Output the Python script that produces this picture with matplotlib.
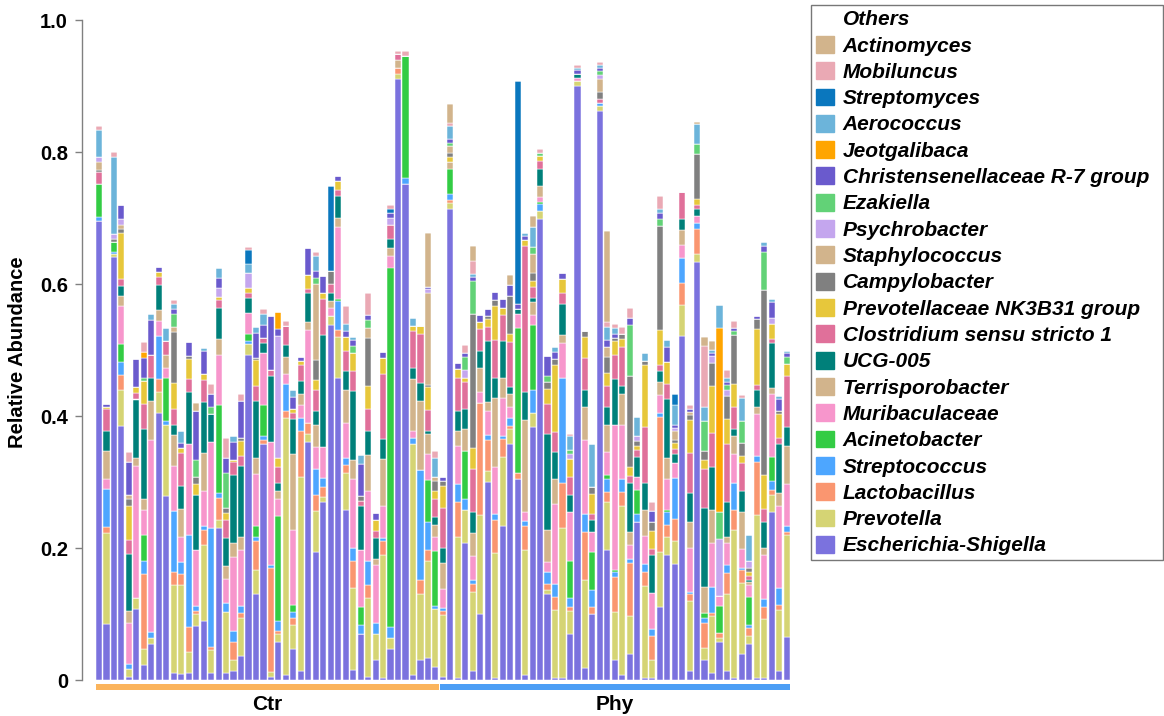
import matplotlib
matplotlib.use("Agg")
import matplotlib.pyplot as plt
from matplotlib.patches import Patch, Rectangle
import matplotlib.transforms as mtransforms
import numpy as np

plt.rcParams['font.family'] = ['Liberation Sans', 'DejaVu Sans']

# ---------------- data ----------------
groups = ["Ctr", "Phy"]
group_sizes = [46, 47]
N = sum(group_sizes)

def dense(d):
    return [d.get(i, 0.0) for i in range(N)]

escherichia = [0.695, 0.085, 0.641, 0.385, 0.004, 0.107, 0.022, 0.055, 0.404, 0.279,
               0.010, 0.009, 0.010, 0.082, 0.089, 0.010, 0.230, 0.010, 0.013, 0.037,
               0.492, 0.130, 0.357, 0.004, 0.058, 0.007, 0.047, 0.013, 0.361, 0.194,
               0.270, 0.538, 0.458, 0.258, 0.015, 0.070, 0.005, 0.030, 0.003, 0.047,
               0.910, 0.751, 0.007, 0.030, 0.033, 0.020, 0.005, 0.713, 0.003, 0.207,
               0.013, 0.100, 0.300, 0.003, 0.234, 0.357, 0.305, 0.007, 0.384, 0.698,
               0.130, 0.003, 0.003, 0.069, 0.900, 0.018, 0.100, 0.862, 0.197, 0.030,
               0.007, 0.040, 0.240, 0.003, 0.003, 0.110, 0.190, 0.176, 0.521, 0.013,
               0.633, 0.030, 0.010, 0.057, 0.013, 0.003, 0.040, 0.055, 0.003, 0.003,
               0.254, 0.013, 0.065]
prevotella = [0.000, 0.138, 0.004, 0.055, 0.013, 0.017, 0.025, 0.009, 0.033, 0.107,
              0.134, 0.135, 0.032, 0.018, 0.115, 0.035, 0.013, 0.093, 0.017, 0.057,
              0.017, 0.037, 0.000, 0.008, 0.012, 0.390, 0.037, 0.294, 0.011, 0.062,
              0.008, 0.013, 0.061, 0.055, 0.125, 0.000, 0.119, 0.040, 0.187, 0.017,
              0.008, 0.000, 0.350, 0.100, 0.147, 0.087, 0.093, 0.009, 0.214, 0.050,
              0.120, 0.150, 0.017, 0.190, 0.104, 0.023, 0.000, 0.190, 0.020, 0.013,
              0.007, 0.103, 0.228, 0.035, 0.007, 0.134, 0.000, 0.008, 0.073, 0.073,
              0.257, 0.057, 0.000, 0.140, 0.027, 0.084, 0.027, 0.035, 0.047, 0.107,
              0.013, 0.019, 0.087, 0.007, 0.117, 0.224, 0.107, 0.011, 0.247, 0.090,
              0.027, 0.093, 0.154]
lactobacillus = [0.000, 0.009, 0.000, 0.022, 0.000, 0.000, 0.113, 0.000, 0.019, 0.000,
                 0.020, 0.017, 0.038, 0.005, 0.023, 0.005, 0.033, 0.000, 0.027, 0.007,
                 0.000, 0.043, 0.007, 0.157, 0.005, 0.010, 0.010, 0.071, 0.017, 0.025,
                 0.015, 0.000, 0.012, 0.013, 0.040, 0.000, 0.020, 0.000, 0.020, 0.000,
                 0.010, 0.000, 0.000, 0.021, 0.017, 0.000, 0.006, 0.006, 0.053, 0.000,
                 0.013, 0.170, 0.047, 0.050, 0.027, 0.005, 0.009, 0.037, 0.000, 0.000,
                 0.008, 0.020, 0.067, 0.007, 0.000, 0.072, 0.010, 0.000, 0.015, 0.053,
                 0.021, 0.080, 0.000, 0.020, 0.037, 0.204, 0.018, 0.033, 0.033, 0.010,
                 0.037, 0.037, 0.004, 0.007, 0.032, 0.030, 0.020, 0.013, 0.080, 0.017,
                 0.007, 0.007, 0.005]
streptococcus = [0.007, 0.057, 0.003, 0.020, 0.007, 0.000, 0.020, 0.009, 0.065, 0.007,
                 0.092, 0.018, 0.140, 0.007, 0.007, 0.180, 0.007, 0.013, 0.017, 0.011,
                 0.005, 0.007, 0.005, 0.005, 0.015, 0.041, 0.009, 0.019, 0.000, 0.038,
                 0.013, 0.000, 0.043, 0.010, 0.020, 0.013, 0.037, 0.017, 0.005, 0.017,
                 0.000, 0.010, 0.010, 0.167, 0.043, 0.005, 0.005, 0.009, 0.027, 0.017,
                 0.005, 0.000, 0.007, 0.008, 0.005, 0.012, 0.000, 0.007, 0.035, 0.010,
                 0.019, 0.020, 0.159, 0.013, 0.000, 0.028, 0.027, 0.005, 0.020, 0.007,
                 0.019, 0.007, 0.011, 0.013, 0.010, 0.007, 0.020, 0.062, 0.038, 0.003,
                 0.010, 0.008, 0.040, 0.000, 0.013, 0.042, 0.003, 0.005, 0.010, 0.013,
                 0.013, 0.027, 0.010]
acinetobacter = dense({0: 0.05, 2: 0.015, 3: 0.027, 6: 0.04, 9: 0.064, 16: 0.134,
                       20: 0.01, 21: 0.017, 22: 0.048, 24: 0.159, 26: 0.011, 32: 0.003,
                       35: 0.027, 39: 0.544, 41: 0.184, 44: 0.063, 45: 0.083, 47: 0.038,
                       49: 0.073, 56: 0.22, 58: 0.099, 59: 0.004, 63: 0.057, 66: 0.057,
                       68: 0.005, 69: 0.003, 72: 0.037, 76: 0.003, 81: 0.007, 83: 0.041,
                       87: 0.042, 90: 0.037})
muribaculaceae = [0.000, 0.015, 0.000, 0.058, 0.063, 0.200, 0.037, 0.290, 0.023, 0.015,
                  0.068, 0.037, 0.137, 0.085, 0.053, 0.130, 0.075, 0.037, 0.113, 0.085,
                  0.032, 0.078, 0.079, 0.186, 0.025, 0.015, 0.114, 0.020, 0.142, 0.034,
                  0.047, 0.013, 0.110, 0.053, 0.104, 0.087, 0.105, 0.087, 0.048, 0.017,
                  0.000, 0.000, 0.010, 0.000, 0.040, 0.021, 0.029, 0.000, 0.057, 0.000,
                  0.037, 0.017, 0.037, 0.072, 0.058, 0.017, 0.020, 0.013, 0.015, 0.007,
                  0.015, 0.120, 0.053, 0.073, 0.005, 0.112, 0.030, 0.000, 0.035, 0.220,
                  0.083, 0.020, 0.020, 0.042, 0.055, 0.027, 0.047, 0.023, 0.020, 0.067,
                  0.010, 0.000, 0.067, 0.015, 0.032, 0.043, 0.028, 0.018, 0.063, 0.067,
                  0.095, 0.124, 0.063]
terrisporobacter = [0.000, 0.043, 0.000, 0.015, 0.017, 0.013, 0.017, 0.059, 0.017, 0.020,
                    0.047, 0.043, 0.000, 0.000, 0.057, 0.000, 0.025, 0.020, 0.020, 0.020,
                    0.000, 0.024, 0.000, 0.000, 0.013, 0.027, 0.115, 0.017, 0.012, 0.033,
                    0.000, 0.010, 0.013, 0.050, 0.030, 0.000, 0.055, 0.010, 0.072, 0.013,
                    0.011, 0.000, 0.079, 0.105, 0.030, 0.019, 0.040, 0.010, 0.023, 0.033,
                    0.035, 0.035, 0.013, 0.104, 0.030, 0.020, 0.000, 0.140, 0.019, 0.017,
                    0.049, 0.038, 0.013, 0.000, 0.000, 0.049, 0.000, 0.000, 0.042, 0.000,
                    0.047, 0.020, 0.000, 0.040, 0.000, 0.019, 0.032, 0.000, 0.023, 0.040,
                    0.000, 0.040, 0.050, 0.000, 0.010, 0.027, 0.057, 0.005, 0.010, 0.010,
                    0.010, 0.020, 0.057]
ucg005 = [0.000, 0.030, 0.000, 0.015, 0.087, 0.088, 0.107, 0.035, 0.038, 0.000,
          0.015, 0.035, 0.080, 0.083, 0.077, 0.043, 0.047, 0.042, 0.103, 0.108,
          0.023, 0.087, 0.015, 0.100, 0.011, 0.017, 0.052, 0.019, 0.043, 0.021,
          0.169, 0.013, 0.033, 0.029, 0.104, 0.067, 0.037, 0.031, 0.030, 0.013,
          0.000, 0.000, 0.016, 0.027, 0.005, 0.012, 0.022, 0.000, 0.030, 0.030,
          0.032, 0.027, 0.092, 0.031, 0.055, 0.010, 0.008, 0.043, 0.007, 0.025,
          0.145, 0.042, 0.047, 0.027, 0.006, 0.027, 0.018, 0.000, 0.027, 0.070,
          0.011, 0.075, 0.030, 0.040, 0.057, 0.017, 0.089, 0.013, 0.017, 0.043,
          0.010, 0.119, 0.064, 0.000, 0.053, 0.012, 0.032, 0.003, 0.027, 0.039,
          0.067, 0.073, 0.029]
clostridium = [0.017, 0.033, 0.000, 0.010, 0.021, 0.010, 0.037, 0.035, 0.011, 0.021,
               0.024, 0.050, 0.019, 0.000, 0.033, 0.000, 0.012, 0.028, 0.020, 0.015,
               0.007, 0.023, 0.007, 0.010, 0.024, 0.030, 0.009, 0.024, 0.007, 0.033,
               0.055, 0.013, 0.010, 0.031, 0.030, 0.007, 0.033, 0.011, 0.098, 0.022,
               0.009, 0.000, 0.057, 0.075, 0.031, 0.027, 0.061, 0.000, 0.051, 0.041,
               0.065, 0.033, 0.022, 0.057, 0.040, 0.068, 0.000, 0.220, 0.017, 0.013,
               0.045, 0.030, 0.017, 0.027, 0.000, 0.048, 0.010, 0.005, 0.031, 0.037,
               0.059, 0.010, 0.010, 0.085, 0.010, 0.010, 0.023, 0.008, 0.041, 0.061,
               0.007, 0.059, 0.053, 0.000, 0.088, 0.032, 0.042, 0.005, 0.007, 0.020,
               0.007, 0.009, 0.078]
nk3b31 = [0.000, 0.004, 0.000, 0.071, 0.052, 0.009, 0.035, 0.000, 0.008, 0.000,
          0.040, 0.008, 0.030, 0.017, 0.009, 0.000, 0.005, 0.010, 0.004, 0.022,
          0.008, 0.039, 0.000, 0.000, 0.015, 0.000, 0.007, 0.007, 0.020, 0.015,
          0.010, 0.000, 0.013, 0.020, 0.027, 0.000, 0.035, 0.016, 0.025, 0.000,
          0.000, 0.000, 0.008, 0.011, 0.035, 0.012, 0.033, 0.007, 0.013, 0.007,
          0.032, 0.011, 0.012, 0.051, 0.010, 0.013, 0.000, 0.009, 0.009, 0.007,
          0.023, 0.101, 0.020, 0.027, 0.000, 0.032, 0.030, 0.000, 0.020, 0.020,
          0.013, 0.013, 0.007, 0.094, 0.027, 0.052, 0.033, 0.009, 0.000, 0.050,
          0.009, 0.015, 0.071, 0.000, 0.037, 0.035, 0.010, 0.006, 0.085, 0.052,
          0.023, 0.037, 0.018]
campylobacter = dense({0: 0.004, 2: 0.005, 3: 0.005, 4: 0.01, 10: 0.078, 12: 0.005,
                       13: 0.01, 17: 0.007, 19: 0.005, 21: 0.003, 29: 0.03, 31: 0.02,
                       35: 0.008, 36: 0.072, 44: 0.003, 45: 0.016, 46: 0.007, 47: 0.007,
                       50: 0.202, 52: 0.005, 53: 0.009, 55: 0.057, 58: 0.011, 60: 0.011,
                       61: 0.009, 65: 0.009, 66: 0.011, 67: 0.011, 68: 0.025, 69: 0.005,
                       70: 0.007, 71: 0.139, 72: 0.007, 73: 0.007, 74: 0.013, 75: 0.158,
                       77: 0.005, 79: 0.007, 80: 0.068, 81: 0.013, 82: 0.035, 84: 0.035,
                       85: 0.074, 86: 0.02, 87: 0.006, 88: 0.015, 89: 0.28, 91: 0.005})
staphylococcus = dense({0: 0.012, 3: 0.007, 4: 0.007, 10: 0.007, 29: 0.115, 36: 0.015,
                        44: 0.14, 45: 0.005, 47: 0.01, 58: 0.03, 67: 0.02, 68: 0.015,
                        77: 0.013, 79: 0.005})
psychrobacter = dense({0: 0.008, 2: 0.008, 3: 0.008, 16: 0.013, 20: 0.022, 24: 0.184,
                       39: 0.01, 44: 0.005, 49: 0.012, 63: 0.007, 67: 0.005, 72: 0.007,
                       77: 0.005, 82: 0.01, 83: 0.087, 84: 0.01, 87: 0.011, 90: 0.009})
ezakiella = dense({6: 0.005, 10: 0.02, 13: 0.027, 15: 0.01, 17: 0.053, 29: 0.009,
                   34: 0.011, 36: 0.013, 47: 0.005, 49: 0.02, 50: 0.05, 58: 0.01,
                   59: 0.004, 60: 0.009, 63: 0.007, 67: 0.007, 71: 0.077, 75: 0.011,
                   80: 0.015, 81: 0.046, 83: 0.04, 84: 0.007, 85: 0.007, 86: 0.033,
                   89: 0.058, 92: 0.01})
christensenellaceae = dense({1: 0.004, 3: 0.022, 4: 0.05, 5: 0.043, 6: 0.03, 7: 0.053,
                             8: 0.007, 10: 0.007, 11: 0.007, 12: 0.021, 13: 0.073, 14: 0.035,
                             15: 0.02, 16: 0.015, 17: 0.023, 18: 0.027, 19: 0.055, 21: 0.038,
                             22: 0.02, 23: 0.082, 24: 0.011, 26: 0.018, 27: 0.005, 28: 0.042,
                             29: 0.01, 30: 0.025, 32: 0.007, 33: 0.01, 34: 0.009, 35: 0.049,
                             36: 0.007, 37: 0.011, 38: 0.009, 39: 0.007, 44: 0.004, 46: 0.007,
                             47: 0.005, 48: 0.01, 49: 0.005, 50: 0.007, 51: 0.01, 52: 0.01,
                             53: 0.013, 54: 0.015, 55: 0.017, 56: 0.008, 57: 0.007, 60: 0.03,
                             61: 0.011, 62: 0.009, 64: 0.006, 67: 0.005, 68: 0.01, 69: 0.007,
                             71: 0.01, 74: 0.017, 75: 0.008, 76: 0.022, 77: 0.005, 79: 0.004,
                             82: 0.005, 84: 0.005, 85: 0.005, 88: 0.005, 89: 0.009, 90: 0.023,
                             91: 0.018, 92: 0.007})
jeotgalibaca = dense({6: 0.009, 24: 0.025, 83: 0.279})
aerococcus = dense({0: 0.04, 2: 0.117, 7: 0.009, 9: 0.02, 10: 0.007, 11: 0.019, 14: 0.005,
                    16: 0.015, 18: 0.008, 20: 0.015, 21: 0.009, 22: 0.017, 26: 0.01,
                    29: 0.023, 33: 0.01, 34: 0.005, 35: 0.013, 42: 0.012, 45: 0.03,
                    47: 0.02, 50: 0.004, 57: 0.005, 58: 0.03, 61: 0.008, 63: 0.02,
                    64: 0.004, 66: 0.065, 67: 0.004, 68: 0.02, 69: 0.009, 72: 0.03,
                    73: 0.011, 75: 0.006, 76: 0.011, 77: 0.03, 80: 0.03, 81: 0.021,
                    82: 0.004, 83: 0.035, 84: 0.005, 86: 0.035, 87: 0.04, 89: 0.006,
                    90: 0.005, 91: 0.005, 92: 0.003})
streptomyces = dense({20: 0.02, 31: 0.128, 39: 0.007, 56: 0.338, 77: 0.017})
mobiluncus = dense({0: 0.007, 2: 0.007, 4: 0.015, 6: 0.015, 10: 0.007, 15: 0.015, 17: 0.03,
                    19: 0.011, 20: 0.005, 22: 0.007, 25: 0.007, 29: 0.007, 33: 0.027,
                    36: 0.033, 39: 0.005, 40: 0.005, 41: 0.008, 45: 0.01, 47: 0.005,
                    49: 0.013, 50: 0.02, 59: 0.007, 63: 0.004, 64: 0.004, 67: 0.004,
                    68: 0.007, 69: 0.005, 70: 0.011, 71: 0.015, 74: 0.013, 75: 0.021,
                    79: 0.007, 81: 0.092, 84: 0.012, 85: 0.01, 86: 0.005})
actinomyces = dense({13: 0.013, 44: 0.082, 47: 0.029, 50: 0.023, 55: 0.015, 58: 0.017,
                     68: 0.139, 80: 0.004, 81: 0.013, 82: 0.013})

# stack order, bottom to top
stack_names = ["Escherichia-Shigella", "Prevotella", "Lactobacillus", "Streptococcus",
               "Acinetobacter", "Muribaculaceae", "Terrisporobacter", "UCG-005",
               "Clostridium sensu stricto 1", "Prevotellaceae NK3B31 group",
               "Campylobacter", "Staphylococcus", "Psychrobacter", "Ezakiella",
               "Christensenellaceae R-7 group", "Jeotgalibaca", "Aerococcus",
               "Streptomyces", "Mobiluncus", "Actinomyces"]
stack_values = [escherichia, prevotella, lactobacillus, streptococcus, acinetobacter,
                muribaculaceae, terrisporobacter, ucg005, clostridium, nk3b31,
                campylobacter, staphylococcus, psychrobacter, ezakiella,
                christensenellaceae, jeotgalibaca, aerococcus, streptomyces,
                mobiluncus, actinomyces]
stack_colors = ["#7B72DE", "#D5D474", "#FA9670", "#4DA6FF", "#33CC44", "#F796CC",
                "#D2B48C", "#00807A", "#E0709A", "#E7C73B", "#808080", "#D2B48C",
                "#C4A6EE", "#62D277", "#6A5ACD", "#FFA500", "#6CB4DA", "#0A77BE",
                "#EAA9B4", "#D2B48C"]

# ---------------- figure ----------------
W, H = 1164, 716
fig = plt.figure(figsize=(W / 100, H / 100), dpi=100)
ax = fig.add_axes([82 / W, 36 / H, 710 / W, 660 / H])

x = np.arange(N)
bottom = np.zeros(N)
for name, vals, col in zip(stack_names, stack_values, stack_colors):
    v = np.array(vals, dtype=float)
    ax.bar(x, v, bottom=bottom, width=0.82, color=col, edgecolor="white",
           linewidth=0.35, label=name)
    bottom += v
others = np.clip(1.0 - bottom, 0, None)
ax.bar(x, others, bottom=bottom, width=0.82, color="white", edgecolor="white",
       linewidth=0.35, label="Others")

ax.set_xlim(-2.27, 92.7)
ax.set_ylim(0, 1.0)
ax.set_xticks([])
ax.set_yticks([0, 0.2, 0.4, 0.6, 0.8, 1.0])
ax.set_yticklabels(["0", "0.2", "0.4", "0.6", "0.8", "1.0"])
for s in ["top", "right", "bottom"]:
    ax.spines[s].set_visible(False)
ax.spines["left"].set_color("#808080")
ax.spines["left"].set_linewidth(1.0)
ax.tick_params(axis="y", direction="out", length=5, width=1, color="#808080",
               pad=5, labelsize=14.5)
for lab in ax.get_yticklabels():
    lab.set_fontweight("bold")

fig.text(18 / W, 1 - 352 / H, "Relative Abundance", rotation=90, ha="center",
         va="center", fontsize=14.5, fontweight="bold")

# group bars and labels
trans = mtransforms.blended_transform_factory(ax.transData, ax.transAxes)
group_colors = ["#FBB45C", "#4C9EF5"]
start = 0
for g, n, c in zip(groups, group_sizes, group_colors):
    x0 = start - 0.5 + 0.05
    x1 = start + n - 1 + 0.5 - 0.05
    ax.add_patch(Rectangle((x0, -0.0152), x1 - x0, 0.0091, transform=trans,
                           color=c, clip_on=False, linewidth=0))
    ax.text((x0 + x1) / 2, -0.0364, g, transform=trans, ha="center", va="center",
            fontsize=15, fontweight="bold")
    start += n

# legend
handles = [Patch(facecolor="white", edgecolor="white", label="Others")]
for name, col in zip(stack_names[::-1], stack_colors[::-1]):
    handles.append(Patch(facecolor=col, edgecolor=col, label=name))
leg = fig.legend(handles=handles, loc="upper left",
                 bbox_to_anchor=(811 / W, 0, 352 / W, 1 - 5 / H), mode="expand",
                 prop={"family": "Liberation Sans", "weight": "bold",
                       "style": "italic", "size": 15},
                 handlelength=0.87, handleheight=0.87, handletextpad=0.43,
                 labelspacing=0.32, borderpad=0.22, borderaxespad=0,
                 frameon=True, fancybox=False)
leg.get_frame().set_edgecolor("#555555")
leg.get_frame().set_linewidth(1.0)

fig.savefig("out.png", dpi=100)
